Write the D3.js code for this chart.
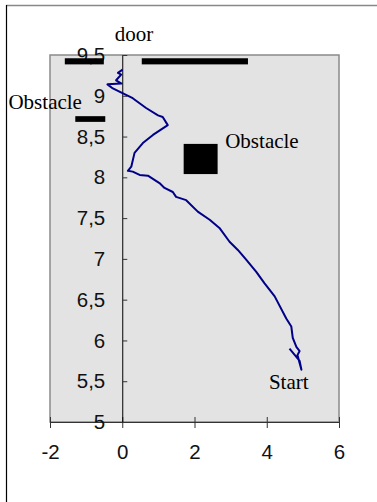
<!DOCTYPE html>
<html>
<head>
<meta charset="utf-8">
<script src="https://cdn.jsdelivr.net/npm/d3@7"></script>
<style>
  body { margin: 0; background: #fff; }
  svg { display: block; }
</style>
</head>
<body>
<div id="container"></div>
<script>
// robot path, from Start up to the door
const trajX = [4.63, 4.91, 4.96, 4.85, 4.91, 4.82, 4.72, 4.68, 4.54, 4.22, 3.94, 3.71, 3.43, 3.20, 2.97, 2.69, 2.42, 2.09, 1.77, 1.49, 1.40, 1.17, 1.03, 0.71, 0.48, 0.29, 0.155, 0.25, 0.34, 0.57, 0.85, 1.26, 1.12, 0.99, 0.66, 0.29, 0.02, -0.26, -0.41, -0.02, -0.17, -0.03, -0.12, 0.01];
const trajY = [5.90, 5.75, 5.64, 5.82, 5.87, 5.92, 6.03, 6.17, 6.27, 6.54, 6.70, 6.84, 6.99, 7.11, 7.21, 7.38, 7.48, 7.58, 7.72, 7.76, 7.82, 7.87, 7.93, 8.02, 8.03, 8.07, 8.08, 8.13, 8.30, 8.42, 8.52, 8.64, 8.74, 8.76, 8.85, 8.97, 9.03, 9.09, 9.14, 9.15, 9.19, 9.26, 9.28, 9.32];

// obstacles: [x0, x1, y0, y1]
const obstacles = [
  [-1.59, -0.51, 9.385, 9.46],
  [0.54, 3.48, 9.385, 9.46],
  [-1.30, -0.47, 8.68, 8.75],
  [1.70, 2.64, 8.04, 8.41]
];

const xTicks = [-2, 0, 2, 4, 6];
const yTicks = [5, 5.5, 6, 6.5, 7, 7.5, 8, 8.5, 9, 9.5];

// text labels: [text, x, y] in data units
const notes = [
  ["door", -0.21, 9.67],
  ["Obstacle", -3.15, 8.84],
  ["Obstacle", 2.85, 8.36],
  ["Start", 4.06, 5.405]
];

const WIDTH = 377;
const HEIGHT = 502;

let svg = d3.select("#container")
  .append("svg")
  .attr("width", WIDTH)
  .attr("height", HEIGHT);

// outer chart frame
svg.append("line")
  .attr("x1", 6).attr("x2", WIDTH).attr("y1", 5.5).attr("y2", 5.5)
  .attr("stroke", "#888").attr("stroke-width", 1.5);
svg.append("line")
  .attr("x1", 6.5).attr("x2", 6.5).attr("y1", 5).attr("y2", HEIGHT)
  .attr("stroke", "#000").attr("stroke-width", 1.2);

const x = d3.scaleLinear().domain([-2, 6]).range([50, 339]);
const y = d3.scaleLinear().domain([5, 9.5]).range([422, 55]);

const fmt = d => String(d).replace(".", ",");

// plot area
svg.append("rect")
  .attr("x", x(-2))
  .attr("y", y(9.5))
  .attr("width", x(6) - x(-2))
  .attr("height", y(5) - y(9.5))
  .attr("fill", "#e3e3e3")
  .attr("stroke", "#8a8a8a")
  .attr("stroke-width", 1.5);

// x axis
let xAxis = svg.append("g")
  .attr("transform", `translate(0,${y(5)})`)
  .call(d3.axisBottom(x).tickValues(xTicks).tickSize(6).tickSizeOuter(0).tickFormat(fmt).tickPadding(16));
xAxis.select(".domain").attr("stroke", "#333").attr("stroke-width", 1.2);
xAxis.selectAll(".tick line").attr("y1", -5).attr("stroke", "#333");
xAxis.selectAll("text")
  .attr("font-family", "Liberation Sans, Arial, sans-serif")
  .attr("font-size", 20.5)
  .attr("fill", "#111");

// y axis on x = 0
let yAxis = svg.append("g")
  .attr("transform", `translate(${x(0)},0)`)
  .call(d3.axisLeft(y).tickValues(yTicks).tickSize(7).tickSizeOuter(0).tickFormat(fmt).tickPadding(10));
yAxis.select(".domain").attr("stroke", "#000").attr("stroke-width", 1);
yAxis.selectAll(".tick line").attr("x2", 5).attr("stroke", "#333");
yAxis.selectAll("text")
  .attr("font-family", "Liberation Sans, Arial, sans-serif")
  .attr("font-size", 20.5)
  .attr("fill", "#111");

// obstacles
svg.selectAll("rect.obstacle")
  .data(obstacles)
  .enter()
  .append("rect")
  .attr("class", "obstacle")
  .attr("x", d => x(d[0]))
  .attr("y", d => y(d[3]))
  .attr("width", d => x(d[1]) - x(d[0]))
  .attr("height", d => y(d[2]) - y(d[3]))
  .attr("fill", "#000");

// path
const pts = trajX.map((v, i) => [v, trajY[i]]);
svg.append("path")
  .datum(pts)
  .attr("d", d3.line().x(d => x(d[0])).y(d => y(d[1])))
  .attr("fill", "none")
  .attr("stroke", "#000088")
  .attr("stroke-width", 2)
  .attr("stroke-linejoin", "round");

// labels
svg.selectAll("text.note")
  .data(notes)
  .enter()
  .append("text")
  .attr("class", "note")
  .attr("x", d => x(d[1]))
  .attr("y", d => y(d[2]))
  .attr("font-family", "Liberation Serif, Times New Roman, serif")
  .attr("font-size", 21)
  .attr("fill", "#000")
  .text(d => d[0]);
</script>
</body>
</html>
